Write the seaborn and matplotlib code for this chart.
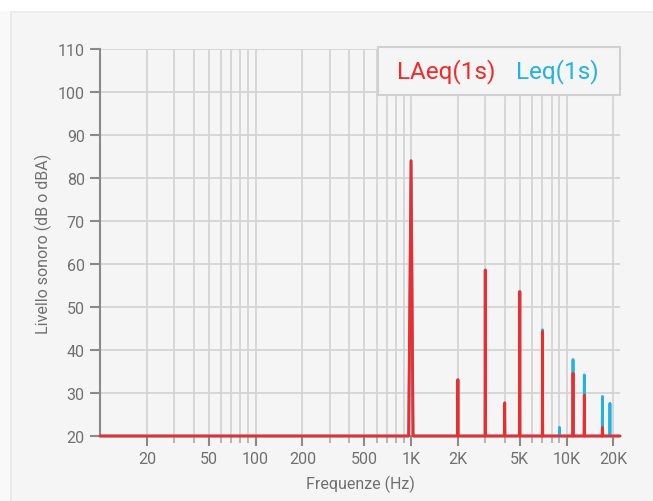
import numpy as np
import pandas as pd
import matplotlib
matplotlib.use("Agg")
import matplotlib.pyplot as plt
import matplotlib.ticker as mticker
from matplotlib.patches import Rectangle
from matplotlib.lines import Line2D
import seaborn as sns

# ---- data ----
peak_freqs = [1000, 2000, 3000, 4000, 5000, 7000, 9000, 11000, 13000, 17000, 19000]
laeq_levels = [84.0, 33.1, 58.6, 27.7, 53.6, 44.3, 20.0, 34.6, 29.5, 22.0, 20.0]
leq_levels = [84.0, 33.1, 58.6, 27.7, 53.6, 44.7, 22.0, 37.8, 34.2, 29.2, 27.6]
floor_level = 20.0
f_min, f_max = 10, 22050
series_names = ["LAeq(1s)", "Leq(1s)"]
x_tick_vals = [20, 50, 100, 200, 500, 1000, 2000, 5000, 10000, 20000]
x_tick_labels = ["20", "50", "100", "200", "500", "1K", "2K", "5K", "10K", "20K"]
y_ticks = [20, 30, 40, 50, 60, 70, 80, 90, 100, 110]

RED = "#f22a2a"
BLUE = "#22b2e4"
W, H = 653, 502


def spectrum(levels):
    fs, ls = [f_min], [floor_level]
    for f, v in zip(peak_freqs, levels):
        lo, hi = (0.965, 1.03) if f == 1000 else (0.997, 1.003)
        fs += [f * lo, f, f * hi]
        ls += [floor_level, v, floor_level]
    fs.append(f_max)
    ls.append(floor_level)
    return fs, ls


rows = []
for name, lev in zip(series_names, [laeq_levels, leq_levels]):
    fs, ls = spectrum(lev)
    for f, l in zip(fs, ls):
        rows.append({"f": f, "level": l, "series": name})
df = pd.DataFrame(rows)

sns.set_theme(style="white")
plt.rcParams["font.family"] = ["Roboto", "DejaVu Sans"]

fig = plt.figure(figsize=(W / 100, H / 100), dpi=100, facecolor="#f5f5f5")


def px_rect(x0, y0, x1, y1, **kw):
    return Rectangle((x0 / W, 1 - y1 / H), (x1 - x0) / W, (y1 - y0) / H,
                     transform=fig.transFigure, **kw)


fig.patches.append(px_rect(0, 0, W, 12, facecolor="white", edgecolor="none", zorder=0))
fig.patches.append(px_rect(0, 12, 10, H, facecolor="#f9f9f9", edgecolor="none", zorder=0))
fig.patches.append(px_rect(10, 12, 11.5, H, facecolor="#e8e8e8", edgecolor="none", zorder=0))
fig.patches.append(px_rect(10, 12, W, 13.5, facecolor="#ececec", edgecolor="none", zorder=0))

ax = fig.add_axes([100 / W, 1 - 437 / H, 520 / W, 387 / H])
ax.set_facecolor("#f5f5f5")

sns.lineplot(data=df, x="f", y="level", hue="series", hue_order=["Leq(1s)", "LAeq(1s)"],
             palette={"LAeq(1s)": RED, "Leq(1s)": BLUE}, linewidth=2.0, legend=False,
             sort=False, estimator=None, ax=ax, zorder=5)
for ln in ax.lines:
    ln.set_clip_on(False)

ax.set_xscale("log")
ax.set_xlim(f_min, f_max)
ax.set_ylim(20, 110)

ax.xaxis.set_major_locator(mticker.FixedLocator(x_tick_vals))
ax.xaxis.set_major_formatter(mticker.FixedFormatter(x_tick_labels))
minor = [m * 10 ** e for e in range(1, 5) for m in range(1, 10) if m * 10 ** e not in x_tick_vals
         and f_min < m * 10 ** e < f_max]
ax.xaxis.set_minor_locator(mticker.FixedLocator(minor))
ax.xaxis.set_minor_formatter(mticker.NullFormatter())
ax.set_yticks(y_ticks)

ax.grid(True, which="both", axis="x", color="#d4d4d4", linewidth=1.3)
ax.grid(True, which="major", axis="y", color="#d4d4d4", linewidth=1.3)
ax.set_axisbelow(True)

for s in ["top", "right"]:
    ax.spines[s].set_visible(False)
for s in ["left", "bottom"]:
    ax.spines[s].set_color("#8a8a8a")
    ax.spines[s].set_linewidth(1.5)

ax.tick_params(axis="both", which="major", direction="out", length=7, width=1.5,
               color="#8a8a8a", labelcolor="#707070", labelsize=11.5, pad=4,
               bottom=True, left=True)
ax.tick_params(axis="x", which="minor", direction="out", length=5, width=1.3,
               color="#b0b0b0", bottom=True)

ax.set_xlabel("Frequenze (Hz)", fontsize=11.5, color="#707070", labelpad=6)
ax.set_ylabel("Livello sonoro (dB o dBA)", fontsize=11.5, color="#707070", labelpad=4)

# legend box
fig.patches.append(px_rect(378, 48, 620, 96, facecolor="#f5f5f5", edgecolor="#d0d0d0",
                           linewidth=1.5, zorder=3))
handles = [Line2D([], [], color="none") for _ in series_names]
leg = fig.legend(handles, series_names, ncol=2, loc="center",
                 bbox_to_anchor=(498 / W, 1 - 72 / H), bbox_transform=fig.transFigure,
                 handlelength=0, handletextpad=0, columnspacing=0.85, fontsize=17.5,
                 labelcolor=[RED, BLUE], frameon=False, borderpad=0, borderaxespad=0)
leg.set_zorder(10)

fig.savefig("out.png", dpi=100, facecolor=fig.get_facecolor())
